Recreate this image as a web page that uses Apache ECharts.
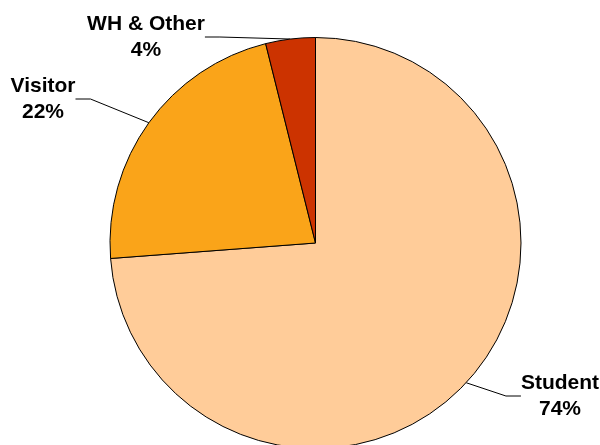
<!DOCTYPE html>
<html>
<head>
<meta charset="utf-8">
<script src="https://cdn.jsdelivr.net/npm/echarts@6/dist/echarts.min.js"></script>
<style>html,body{margin:0;padding:0;background:#fff}#c{width:600px;height:445px}</style>
</head>
<body>
<div id="c"></div>
<script>
const categories = ['Student', 'Visitor', 'WH & Other'];
const values = [73.8, 22.3, 3.9];
const colors = ['#FFCC99', '#FAA419', '#CC3300'];
// label anchor positions (label centres), px
const labelPos = [[560, 396], [43, 99], [146, 37]];

const chart = echarts.init(document.getElementById('c'), null, {renderer: 'canvas'});
chart.setOption({
  animation: false,
  backgroundColor: '#ffffff',
  series: [{
    type: 'pie',
    center: [315.5, 243],
    radius: [0, 205.5],
    startAngle: 90,
    clockwise: true,
    percentPrecision: 0,
    data: categories.map((c, i) => ({name: c, value: values[i], itemStyle: {color: colors[i]}})),
    itemStyle: {borderColor: '#000', borderWidth: 1},
    emphasis: {disabled: true},
    label: {
      show: true,
      formatter: '{b}\n{d}%',
      fontFamily: 'Liberation Sans, Arial, sans-serif',
      fontWeight: 'bold',
      fontSize: 21,
      lineHeight: 26,
      color: '#000',
      align: 'center'
    },
    labelLine: {show: true, length: 20, length2: 15, lineStyle: {color: '#000', width: 1}},
    labelLayout: function (p) {
      const pos = labelPos[p.dataIndex];
      return {x: pos[0], y: pos[1], align: 'center', verticalAlign: 'middle'};
    }
  }]
});
</script>
</body>
</html>
